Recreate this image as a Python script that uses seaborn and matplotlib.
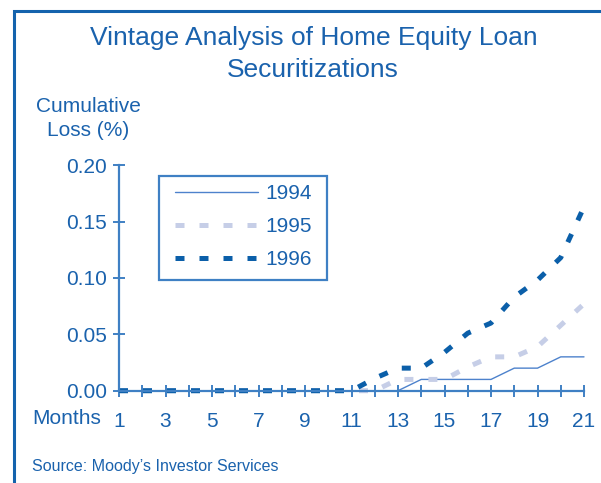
import pandas as pd
import seaborn as sns
import matplotlib.pyplot as plt
from matplotlib.patches import Rectangle

# values
months = [1, 2, 3, 4, 5, 6, 7, 8, 9, 10, 11, 12, 13, 14, 15, 16, 17, 18, 19, 20, 21]
loss_1994 = [0, 0, 0, 0, 0, 0, 0, 0, 0, 0, 0, 0, 0,
             0.01, 0.01, 0.01, 0.01, 0.02, 0.02, 0.03, 0.03]
loss_1995 = [0, 0, 0, 0, 0, 0, 0, 0, 0, 0, 0, 0,
             0.01, 0.01, 0.01, 0.021, 0.03, 0.03, 0.039, 0.058, 0.077]
loss_1996 = [0, 0, 0, 0, 0, 0, 0, 0, 0, 0, 0,
             0.011, 0.02, 0.02, 0.034, 0.051, 0.06, 0.083, 0.098, 0.118, 0.163]
years = ["1994", "1995", "1996"]
y_ticks = [0.0, 0.05, 0.10, 0.15, 0.20]

blue = "#1a62ad"
axis_blue = "#3f80c4"
palette = {"1994": "#4d82cc", "1995": "#c6cee7", "1996": "#0b5fa9"}
dashes = {"1994": "", "1995": (1.8, 3.0), "1996": (1.8, 3.0)}
sizes = {"1994": 1.0, "1995": 3.6, "1996": 3.6}

df = pd.concat([
    pd.DataFrame({"month": months, "loss": vals, "year": yr})
    for yr, vals in zip(years, [loss_1994, loss_1995, loss_1996])
])

sns.set_style("white")
plt.rcParams["font.family"] = ["Liberation Sans", "DejaVu Sans"]

fig = plt.figure(figsize=(6.01, 4.83), dpi=100)
ax = fig.add_axes([119 / 601, 92.3 / 483, 465 / 601, 225.6 / 483])

sns.lineplot(data=df, x="month", y="loss", hue="year", style="year",
             size="year", palette=palette, dashes=dashes, sizes=sizes,
             hue_order=years, ax=ax)
for ln in ax.get_lines():
    ln.set_clip_on(False)

ax.set_xlim(1, 21)
ax.set_ylim(0, 0.20)
ax.set_xticks(months)
ax.set_xticklabels([str(m) if m % 2 == 1 else "" for m in months])
ax.set_yticks(y_ticks)
ax.set_yticklabels([f"{v:.2f}" for v in y_ticks])
ax.set_xlabel("")
ax.set_ylabel("")
sns.despine(ax=ax)
for side in ["left", "bottom"]:
    ax.spines[side].set_color(axis_blue)
    ax.spines[side].set_linewidth(1.6)
ax.tick_params(axis="both", bottom=True, left=True, direction="inout",
               length=9, width=1.4, color=axis_blue, labelsize=15,
               labelcolor=blue)
ax.tick_params(axis="x", pad=11)
ax.tick_params(axis="y", pad=4)
ax.set_facecolor("white")

# legend without its own frame; the box is drawn separately so the side
# padding can be wider than the top/bottom padding, as in the original
handles, labels = ax.get_legend_handles_labels()
leg = ax.legend(handles, labels, loc="upper left",
                bbox_to_anchor=(175 / 601, 1 - 184 / 483),
                bbox_transform=fig.transFigure, borderaxespad=0,
                fontsize=15, frameon=False, handlelength=3.97,
                handletextpad=0.35, labelspacing=0.67, borderpad=0)
for t in leg.get_texts():
    t.set_color(blue)
fig.patches.append(Rectangle((159 / 601, 1 - 280 / 483), 168 / 601, 104 / 483,
                             transform=fig.transFigure, fill=False,
                             edgecolor=axis_blue, linewidth=1.6))

fig.text(314 / 601, 1 - 38 / 483, "Vintage Analysis of Home Equity Loan",
         ha="center", va="center", fontsize=19, color=blue)
fig.text(313 / 601, 1 - 70 / 483, "Securitizations",
         ha="center", va="center", fontsize=19, color=blue)
fig.text(88 / 601, 1 - 107 / 483, "Cumulative",
         ha="center", va="center", fontsize=15, color=blue)
fig.text(88 / 601, 1 - 130 / 483, "Loss (%)",
         ha="center", va="center", fontsize=15, color=blue)
fig.text(101 / 601, 1 - 419 / 483, "Months",
         ha="right", va="center", fontsize=15, color=blue)
fig.text(32 / 601, 1 - 466 / 483, "Source: Moody\u2019s Investor Services",
         ha="left", va="center", fontsize=11.5, color=blue)

fig.patches.append(Rectangle((14 / 601, -0.2), 2.0, 1.2 - 11 / 483,
                             transform=fig.transFigure, fill=False,
                             edgecolor="#1463ad", linewidth=2.2))

fig.savefig("out.png", dpi=100, facecolor="white")
